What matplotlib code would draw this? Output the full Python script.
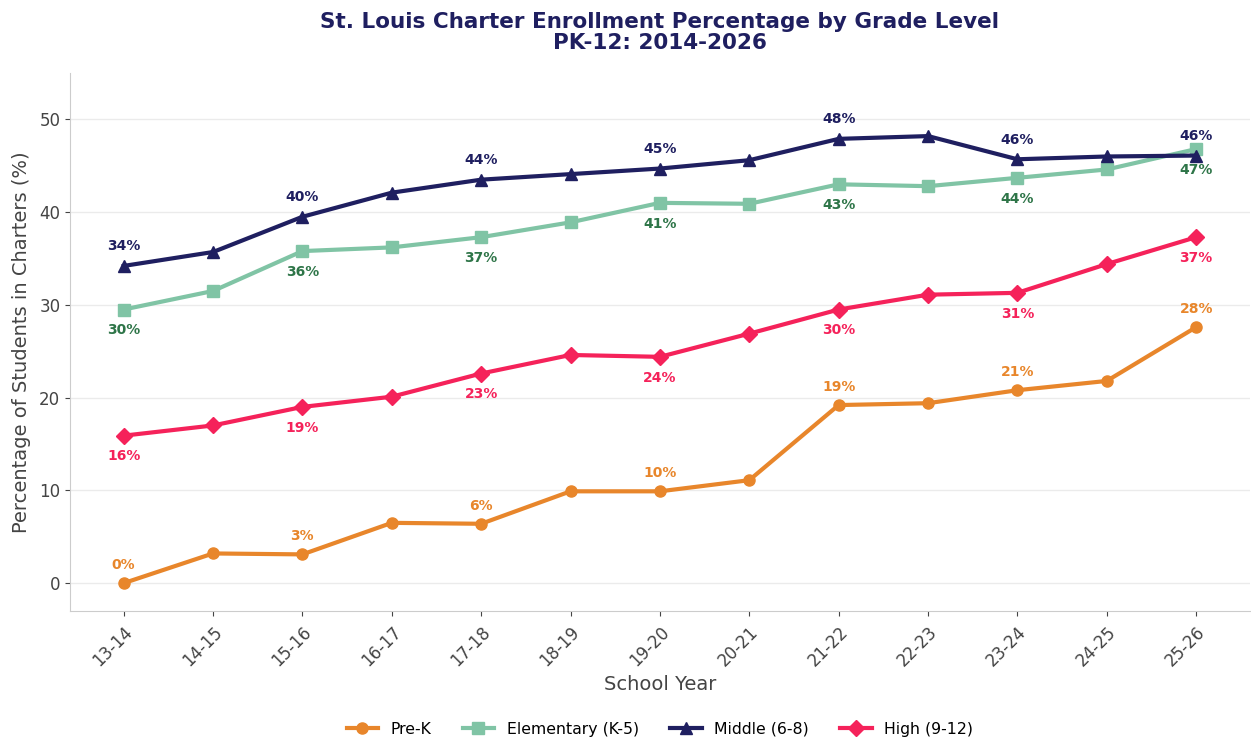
import numpy as np
import matplotlib.pyplot as plt

# School years on the x axis
years = ['13-14', '14-15', '15-16', '16-17', '17-18', '18-19', '19-20',
         '20-21', '21-22', '22-23', '23-24', '24-25', '25-26']

# Percentage of students in charters
pre_k = [0.0, 3.2, 3.1, 6.5, 6.4, 9.9, 9.9, 11.1, 19.2, 19.4, 20.8, 21.8, 27.6]
elementary = [29.5, 31.5, 35.8, 36.2, 37.3, 38.9, 41.0, 40.9, 43.0, 42.8, 43.7, 44.6, 46.8]
middle = [34.2, 35.7, 39.5, 42.1, 43.5, 44.1, 44.7, 45.6, 47.9, 48.2, 45.7, 46.0, 46.1]
high = [15.9, 17.0, 19.0, 20.1, 22.6, 24.6, 24.4, 26.9, 29.5, 31.1, 31.3, 34.4, 37.3]

series = [
    # name, values, line colour, marker, label colour, label offset (points)
    ('Pre-K', pre_k, '#E8862B', 'o', '#E8862B', 13),
    ('Elementary (K-5)', elementary, '#80C4A5', 's', '#2E7548', -15),
    ('Middle (6-8)', middle, '#1F1F60', '^', '#1F1F60', 14),
    ('High (9-12)', high, '#F5225A', 'D', '#F5225A', -15),
]

fig = plt.figure(figsize=(12.51, 7.42), dpi=100)
ax = fig.add_axes([0.056, 0.1766, 0.943, 0.725])

x = np.arange(len(years))
for name, vals, color, marker, lcolor, dy in series:
    ax.plot(x, vals, color=color, marker=marker, linewidth=3, markersize=8, label=name)
    # label every other point
    for i in range(0, len(vals), 2):
        ax.annotate(f'{vals[i]:.0f}%', (x[i], vals[i]), xytext=(0, dy),
                    textcoords='offset points', ha='center', va='center',
                    fontsize=10, fontweight='bold', color=lcolor)

ax.set_xlim(-0.6, 12.6)
ax.set_ylim(-3, 55)
ax.set_xticks(x)
ax.set_xticklabels(years, rotation=45, ha='right', rotation_mode='anchor')
ax.tick_params(axis='both', labelsize=12, colors='#444444')
ax.tick_params(axis='x', pad=5)

ax.yaxis.grid(True, color='#ebebeb', linewidth=1)
ax.set_axisbelow(True)
for side in ['top', 'right']:
    ax.spines[side].set_visible(False)
for side in ['left', 'bottom']:
    ax.spines[side].set_color('#cccccc')

ax.set_xlabel('School Year', fontsize=14, color='#444444')
ax.set_ylabel('Percentage of Students in Charters (%)', fontsize=14, color='#444444',
              labelpad=6)
ax.set_title('St. Louis Charter Enrollment Percentage by Grade Level\nPK-12: 2014-2026',
             fontsize=15.5, fontweight='bold', color='#1F1F60', pad=17, linespacing=1.1)

ax.legend(loc='upper center', bbox_to_anchor=(0.5, -0.18), ncol=4, frameon=False,
          fontsize=11.3)

fig.savefig('out.png', dpi=100)
